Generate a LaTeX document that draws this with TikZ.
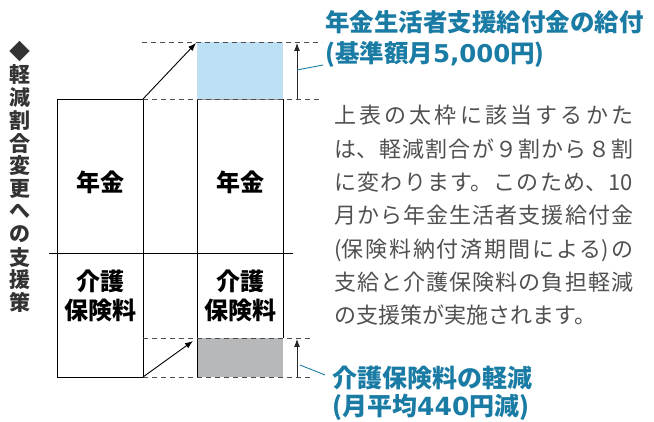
\documentclass[tikz,border=0pt]{standalone}
\usepackage{fontspec}
\setmainfont{Noto Sans CJK JP}
\newfontfamily\digitfont{DejaVu Sans}
\usetikzlibrary{arrows.meta}
\definecolor{titleblue}{HTML}{1A7CA4}
\definecolor{paleblue}{HTML}{BDE0F5}
\definecolor{cutgray}{HTML}{B7B8BA}
\definecolor{bodygray}{HTML}{505050}
\XeTeXlinebreaklocale "ja"
\XeTeXlinebreakskip=0pt plus 6pt
\begin{document}
\begin{tikzpicture}[x=1pt,y=-1pt,
		frame/.style={line width=0.9pt},
		guide/.style={dash pattern=on 5pt off 4pt, color=black!70, line width=0.9pt},
		moveto/.style={-{Latex[length=8pt,width=6pt]}, line width=0.9pt},
		leader/.style={titleblue, line width=0.9pt},
		boxlabel/.style={font=\bfseries\fontsize{24}{29}\selectfont, align=center, inner sep=0pt},
		title/.style={titleblue, font=\bfseries\fontsize{24.5}{30.5}\selectfont, text width=330pt, align=left, inner sep=0pt, anchor=base west}]
	\useasboundingbox (0,0) rectangle (654,422);
	\fill[paleblue] (197,42) rectangle (283,99);
	\fill[cutgray] (197,338) rectangle (283,377);
	\draw[frame] (57,99) rectangle (143,377);
	\draw[frame] (197,377)--(197,99);
	\draw[frame] (283,99)--(283,338);
	\draw[frame, black!40] (197,99)--(283,99);
	\draw[frame] (49,253)--(293,253);
	\draw[guide] (142,42)--(322,42);
	\draw[guide] (143,99)--(322,99);
	\draw[guide] (143,338)--(313,338);
	\draw[guide] (143,377)--(313,377);
	\coordinate (oldtop) at (143,99);
	\coordinate (newtop) at (196,43);
	\coordinate (oldfoot) at (143,377);
	\coordinate (newfoot) at (193,341);
	\coordinate (riselow) at (297,99);
	\coordinate (risehigh) at (297,43);
	\coordinate (droplow) at (297,377);
	\coordinate (drophigh) at (297,339);
	\draw[moveto] (oldtop)--(newtop);
	\draw[moveto] (oldfoot)--(newfoot);
	\draw[moveto, black!85] (riselow)--(risehigh);
	\draw[moveto, black!85] (droplow)--(drophigh);
	\foreach \ch [count=\i] in {◆,軽,減,割,合,変,更,へ,の,支,援,策}
		\node[font=\bfseries\fontsize{21}{21}\selectfont, text=black!80, inner sep=0pt] (side\i) at (20,{52+(\i-1)*22.8}) {\ch};
	\node[boxlabel] (pensionold) at (100,182) {年金};
	\node[boxlabel] (pensionnew) at (240,182) {年金};
	\node[boxlabel] (careold) at (100,296) {介護\\保険料};
	\node[boxlabel] (carenew) at (240,296) {介護\\保険料};
	\node[title] (benefit) at (325,32) {年金生活者支援給付金の給付\\(基準額月{\digitfont 5,000}円)};
	\node[title, font=\bfseries\fontsize{25}{28}\selectfont] (relief) at (332,387.5) {介護保険料の軽減\\(月平均{\digitfont 440}円減)};
	\coordinate (benefitend) at (323,65);
	\coordinate (reliefend) at (325,375);
	\draw[leader] (297,70)--(benefitend);
	\draw[leader] (300,365)--(reliefend);
	\node[anchor=base west, text width=299pt, align=justify, inner sep=0pt, text=bodygray,
		font=\fontsize{22}{33.3}\selectfont] (note) at (334,124)
		{上表の太枠に該当するかた\linebreak は、軽減割合が９割から８割\linebreak に変わります。このため、10\linebreak 月から年金生活者支援給付金\linebreak (保険料納付済期間による)の\linebreak 支給と介護保険料の負担軽減\linebreak の支援策が実施されます。};
\end{tikzpicture}
\end{document}
